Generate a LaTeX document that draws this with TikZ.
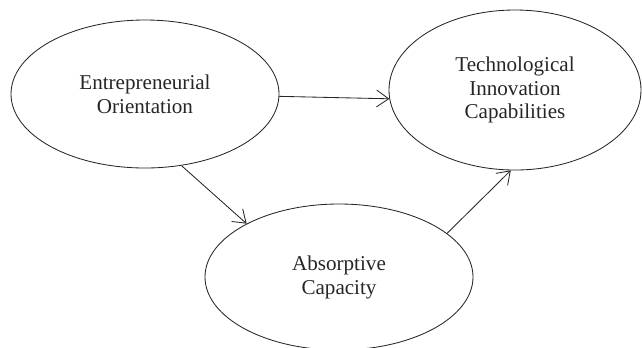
\documentclass[tikz,border=0pt]{standalone}
\usepackage{fontspec}
\setmainfont{Liberation Serif}
\usepackage{tikz}
\usetikzlibrary{arrows.meta,shapes.geometric}
\definecolor{ink}{HTML}{262626}

\tikzset{
  construct/.style={draw=ink, ellipse, line width=0.6pt, inner sep=0pt, align=center,
    text=ink, font=\fontsize{15}{17}\selectfont},
  path/.style={draw=ink, line width=0.6pt, -{Straight Barb[length=3mm,width=4.2mm]}}
}

\begin{document}
\begin{tikzpicture}
         \useasboundingbox (0, 0) rectangle (16.05, -8.675);

         % constructs
         \node[construct, minimum width=6.7cm, minimum height=3.7cm] (EO) at (3.625, -2.35) {Entrepreneurial\\Orientation};
         \node[construct, minimum width=6.3cm, minimum height=4.0cm] (TIC) at (12.875, -2.25) {Technological\\Innovation\\Capabilities};
         \node[construct, minimum width=6.7cm, minimum height=3.65cm] (AC) at (8.475, -6.925) {Absorptive\\Capacity};

         % paths
         \draw[path] (EO.-1.5) -- (TIC.-176);
         \draw[path] (EO.-63) -- (AC.150);
         \draw[path] (AC.22) -- (TIC.-93);
      \end{tikzpicture}
\end{document}
